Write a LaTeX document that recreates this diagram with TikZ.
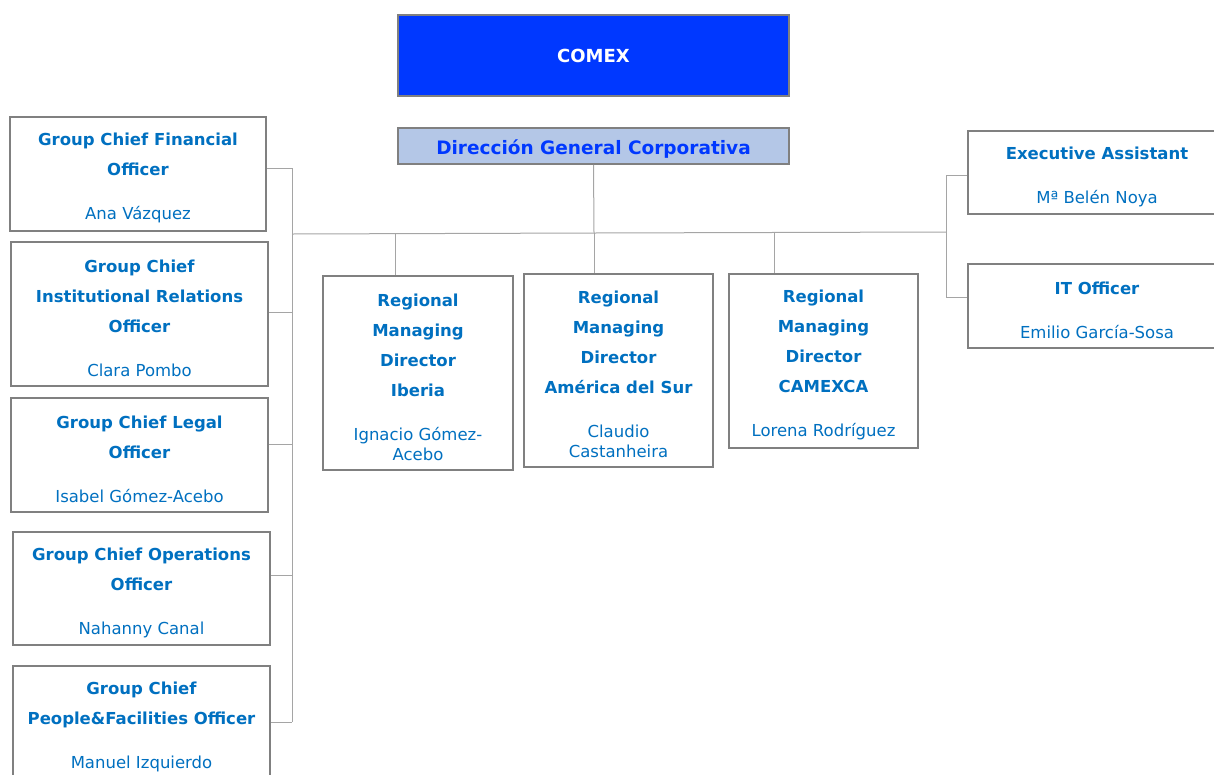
\documentclass[tikz,border=0pt]{standalone}
\usepackage{fontspec}
\setmainfont{DejaVu Sans}
\usepackage{tikz}
\usepackage{color}
\definecolor{mycomexblue}{RGB}{0,56,255}
\definecolor{mypaleblue}{RGB}{180,199,231}
\definecolor{mytitleblue}{RGB}{0,112,192}
\definecolor{myboxgrey}{RGB}{128,128,128}
\definecolor{mylinkgrey}{RGB}{165,165,165}
\newcommand{\widthside}{257pt}
\newcommand{\widthregion}{190pt}
\newcommand{\widthtop}{391pt}
\newcommand{\hd}[1]{\rule{0pt}{20.5pt}\textbf{#1}}
\newcommand{\tl}{\\[10pt]}
\newcommand{\tgap}{\\[24pt]}
\tikzset{
    box/.style={draw=myboxgrey, line width=1.6pt, fill=white, align=center, inner sep=0pt,
        text=mytitleblue, font=\fontsize{16.5}{20}\selectfont},
    side/.style={box, minimum width=\widthside},
    region/.style={box, minimum width=\widthregion},
    link/.style={draw=mylinkgrey, line width=1pt}
}

\begin{document}
\begin{tikzpicture}[x=1pt, y=-1pt]
    \useasboundingbox (0,0) rectangle (1214,774);

    % top
    \node[box, fill=mycomexblue, text=white, minimum width=\widthtop, minimum height=81pt,
        font=\fontsize{18}{22}\selectfont\bfseries] (comex) at (593.5,55.5) {COMEX};
    \node[box, fill=mypaleblue, text=mycomexblue, minimum width=\widthtop, minimum height=36pt,
        font=\fontsize{18.5}{22}\selectfont\bfseries] (dgc) at (593.5,146)
        {\raisebox{-3pt}[\height][\depth]{Dirección General Corporativa}};

    % left column
    \node[side, minimum width=256pt, minimum height=114pt] (cfo) at (138,174)
        {\hd{Group Chief Financial}\tl\textbf{Officer}\tgap Ana Vázquez};
    \node[side, minimum height=144pt] (inst) at (139.5,314)
        {\hd{Group Chief}\tl\textbf{Institutional Relations}\tl\textbf{Officer}\tgap Clara Pombo};
    \node[side, minimum height=114pt] (legal) at (139.5,455)
        {\hd{Group Chief Legal}\tl\textbf{Officer}\tgap Isabel Gómez-Acebo};
    \node[side, minimum height=113pt] (ops) at (141.5,588.5)
        {\hd{Group Chief Operations}\tl\textbf{Officer}\tgap Nahanny Canal};
    \node[side, minimum height=113pt] (people) at (141.5,722.5)
        {\hd{Group Chief}\tl\textbf{People\&Facilities Officer}\tgap Manuel Izquierdo};

    % regions
    \node[region, minimum height=194pt] (iberia) at (418,373)
        {\hd{Regional}\tl\textbf{Managing}\tl\textbf{Director}\tl\textbf{Iberia}\tgap Ignacio Gómez-\\Acebo};
    \node[region, minimum width=189pt, minimum height=193pt] (america) at (618.5,370.5)
        {\hd{Regional}\tl\textbf{Managing}\tl\textbf{Director}\tl\textbf{América del Sur}\tgap Claudio\\Castanheira};
    \node[region, minimum width=189pt, minimum height=174pt] (camexca) at (823.5,361)
        {\hd{Regional}\tl\textbf{Managing}\tl\textbf{Director}\tl\textbf{CAMEXCA}\tgap Lorena Rodríguez};

    % right column
    \node[side, minimum width=258pt, minimum height=83pt] (exec) at (1097,172.5)
        {\hd{Executive Assistant}\tgap Mª Belén Noya};
    \node[side, minimum width=258pt, minimum height=84pt] (it) at (1097,306)
        {\hd{IT Officer}\tgap Emilio García-Sosa};

    % connectors
    \coordinate (hub) at (594,233);
    \coordinate (ltrunk) at (292,234);
    \coordinate (rtrunk) at (946,232);
    \coordinate (t-cfo) at (292,168);
    \coordinate (t-inst) at (292,312);
    \coordinate (t-legal) at (292,444);
    \coordinate (t-ops) at (292,575);
    \coordinate (t-people) at (292,722);
    \coordinate (d-iberia) at (395,234);
    \coordinate (d-camexca) at (774,232);
    \coordinate (t-exec) at (946,175);
    \coordinate (t-it) at (946,297);

    \draw[link] (dgc.south) -- (hub);
    \draw[link] (ltrunk) -- (hub) -- (rtrunk);
    \draw[link] (t-cfo) -- (t-people);
    \foreach \n in {cfo, inst, legal, ops, people}
        \draw[link] (\n.east |- t-\n) -- (t-\n);
    \draw[link] (d-iberia) -- (d-iberia |- iberia.north);
    \draw[link] (hub) -- (hub |- america.north);
    \draw[link] (d-camexca) -- (d-camexca |- camexca.north);
    \draw[link] (t-exec) -- (t-it);
    \draw[link] (t-exec) -- (t-exec -| exec.west);
    \draw[link] (t-it) -- (t-it -| it.west);
\end{tikzpicture}
\end{document}
